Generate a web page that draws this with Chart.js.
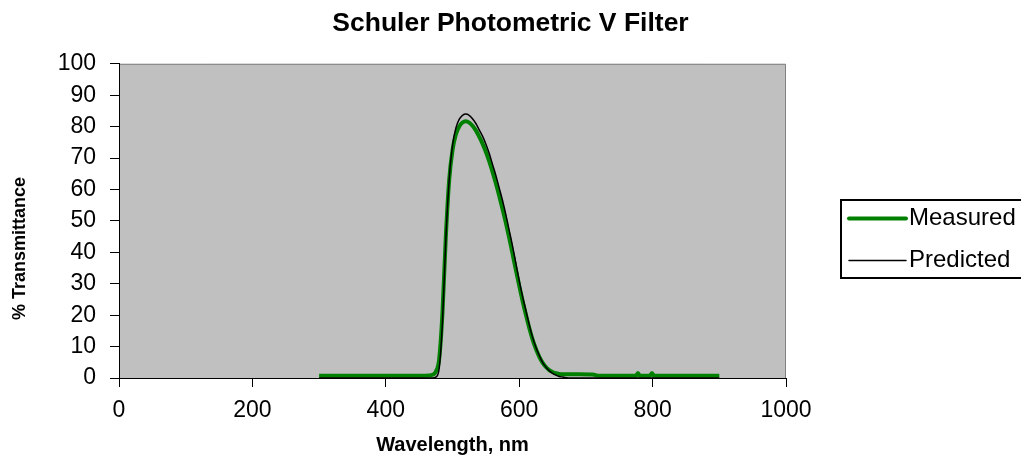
<!DOCTYPE html>
<html>
<head>
<meta charset="utf-8">
<title>Schuler Photometric V Filter</title>
<script src="https://cdn.jsdelivr.net/npm/chart.js@4.4.1/dist/chart.umd.min.js"></script>
<style>
  body { margin: 0; background: #fff; }
  #chartBox { width: 1021px; height: 472px; }
</style>
</head>
<body>
<div id="chartBox"><canvas id="filterChart" width="1021" height="472"></canvas></div>
<script>
// wavelength (nm) and % transmittance
const measuredNm = [300, 350, 400, 450, 465, 470, 475, 480, 485, 490, 495, 500, 505, 510, 515, 520, 525, 530, 535, 540, 545, 550, 555, 560, 565, 570, 575, 580, 585, 590, 595, 600, 605, 610, 615, 620, 625, 630, 635, 640, 645, 650, 655, 660, 665, 670, 690, 710, 720, 750, 775, 778, 781, 796, 799, 802, 850, 900];
const measuredPct = [0.7, 0.7, 0.7, 0.7, 0.8, 1, 2, 6, 21, 45, 63, 72.5, 77.5, 80, 81.3, 81.7, 81.3, 80.3, 78.8, 76.8, 74.6, 72, 69, 65.6, 62, 58, 53.8, 49.4, 44.6, 39.6, 34.4, 29.4, 24.6, 20.2, 16, 12.3, 9.3, 6.8, 4.9, 3.5, 2.5, 1.9, 1.5, 1.3, 1.2, 1.2, 1.2, 1.1, 0.7, 0.7, 0.7, 1.6, 0.7, 0.7, 1.6, 0.7, 0.7, 0.7];

const predictedNm = [300, 400, 460, 470, 475, 480, 485, 490, 495, 500, 505, 510, 515, 520, 525, 530, 535, 540, 545, 550, 555, 560, 565, 570, 575, 580, 585, 590, 595, 600, 605, 610, 615, 620, 625, 630, 635, 640, 645, 650, 655, 660, 665, 670, 680, 700, 900];
const predictedPct = [0, 0, 0, 0, 0.3, 3, 18, 44, 63, 74, 79.5, 82.3, 83.6, 84, 83.6, 82.5, 81, 79, 77, 74.5, 71.5, 68, 64.5, 60.5, 56.5, 52, 47, 42, 36.5, 31, 26, 21.5, 17, 13, 9.8, 7.2, 5, 3.5, 2.3, 1.5, 0.9, 0.5, 0.3, 0.1, 0, 0, 0];

const xTicks = [0, 200, 400, 600, 800, 1000];
const yTicks = [0, 10, 20, 30, 40, 50, 60, 70, 80, 90, 100];

const toPoints = (xs, ys) => xs.map((x, i) => ({ x: x, y: ys[i] }));
const FONT = '"Liberation Sans", Arial, sans-serif';

// grey plot area with the lighter top/right frame
const plotArea = {
    id: 'plotArea',
    beforeDraw(chart) {
        const { ctx, chartArea: a } = chart;
        ctx.save();
        ctx.fillStyle = '#c0c0c0';
        ctx.fillRect(a.left, a.top, a.right - a.left, a.bottom - a.top);
        ctx.strokeStyle = '#808080';
        ctx.lineWidth = 1;
        ctx.beginPath();
        ctx.moveTo(a.left, a.top + 0.5);
        ctx.lineTo(a.right - 0.5, a.top + 0.5);
        ctx.lineTo(a.right - 0.5, a.bottom);
        ctx.stroke();
        ctx.restore();
    }
};

// boxed legend to the right, like the spreadsheet one (runs off the right edge)
const boxLegend = {
    id: 'boxLegend',
    afterDraw(chart) {
        const { ctx, chartArea: a } = chart;
        const left = a.right + 55;
        const top = 200;
        ctx.save();
        ctx.strokeStyle = '#000';
        ctx.lineWidth = 2;
        ctx.strokeRect(left, top, 260, 78);
        ctx.font = '24px ' + FONT;
        ctx.textBaseline = 'middle';
        chart.data.datasets.forEach((ds, i) => {
            const y = top + 18.5 + i * 42;
            ctx.strokeStyle = ds.borderColor;
            ctx.lineWidth = ds.borderWidth;
            ctx.lineCap = 'round';
            ctx.beginPath();
            ctx.moveTo(left + 8, y);
            ctx.lineTo(left + 65, y);
            ctx.stroke();
            ctx.fillStyle = '#000';
            ctx.fillText(ds.label, left + 68, y);
        });
        ctx.restore();
    }
};

const ctx = document.getElementById('filterChart').getContext('2d');
let myChart = new Chart(ctx, {
    type: 'line',
    data: {
        datasets: [{
            label: 'Measured',
            data: toPoints(measuredNm, measuredPct),
            borderColor: '#008000',
            borderWidth: 4,
            pointRadius: 0,
            cubicInterpolationMode: 'monotone',
            order: 1
        }, {
            label: 'Predicted',
            data: toPoints(predictedNm, predictedPct),
            borderColor: '#000000',
            borderWidth: 1.5,
            pointRadius: 0,
            cubicInterpolationMode: 'monotone',
            order: 0
        }]
    },
    options: {
        responsive: false,
        animation: false,
        devicePixelRatio: 1,
        layout: { padding: 0 },
        plugins: {
            legend: { display: false },
            tooltip: { enabled: false },
            title: {
                display: true,
                text: 'Schuler Photometric V Filter',
                color: '#000',
                font: { family: FONT, size: 26.5, weight: 'bold' },
                padding: { top: 8, bottom: 24 }
            }
        },
        scales: {
            x: {
                type: 'linear',
                min: 0,
                max: 1000,
                afterBuildTicks: (scale) => { scale.ticks = xTicks.map(v => ({ value: v })); },
                afterFit: (scale) => { scale.height = 94; },
                ticks: {
                    color: '#000',
                    padding: 10,
                    maxRotation: 0,
                    callback: (v) => String(v),
                    font: { family: FONT, size: 23 }
                },
                grid: { drawOnChartArea: false, tickLength: 9, color: '#000' },
                border: { display: true, color: '#000', width: 1 },
                title: {
                    display: true,
                    text: 'Wavelength, nm',
                    color: '#000',
                    font: { family: FONT, size: 20, weight: 'bold' },
                    padding: { top: 0, bottom: 15 }
                }
            },
            y: {
                min: 0,
                max: 100,
                afterBuildTicks: (scale) => { scale.ticks = yTicks.map(v => ({ value: v })); },
                afterFit: (scale) => { scale.width = 119; },
                ticks: {
                    color: '#000',
                    padding: 14,
                    font: { family: FONT, size: 23 }
                },
                grid: { drawOnChartArea: false, tickLength: 9, color: '#000' },
                border: { display: true, color: '#000', width: 1 },
                title: {
                    display: true,
                    // trailing spaces push the visible words down, as in the original
                    text: '% Transmittance           ',
                    color: '#000',
                    font: { family: FONT, size: 18, weight: 'bold' },
                    padding: { top: 9, bottom: 0 }
                }
            },
            // empty right-hand axis that only holds the room for the legend
            legendRoom: {
                position: 'right',
                display: true,
                afterFit: (scale) => { scale.width = 235; },
                ticks: { display: false },
                grid: { display: false },
                border: { display: false }
            }
        }
    },
    plugins: [plotArea, boxLegend]
});
</script>
</body>
</html>
